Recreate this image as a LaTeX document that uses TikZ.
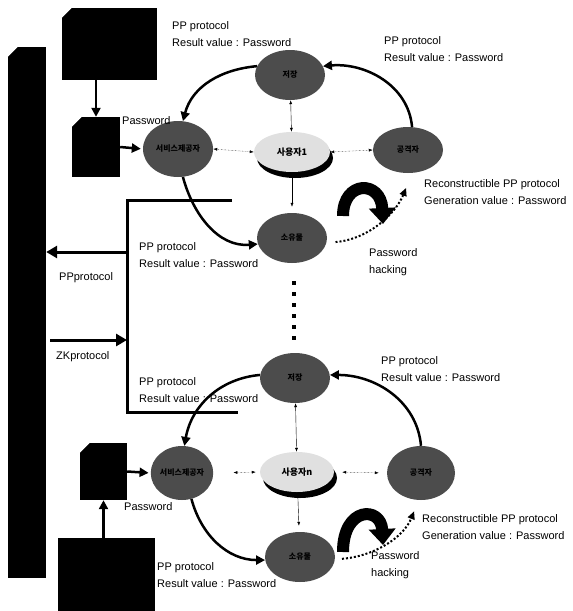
\documentclass[tikz,border=0pt]{standalone}
\usepackage{fontspec}
\setmainfont{Liberation Sans}
\newfontfamily\kr{Noto Sans CJK KR}
\usetikzlibrary{arrows.meta,shapes.geometric,shadows}

\begin{document}
\begin{tikzpicture}[x=1pt, y=-1pt,
        el/.style={ellipse, fill=black!70, inner sep=0pt, font=\kr\bfseries\footnotesize},
        us/.style={ellipse, fill=black!12, inner sep=0pt, font=\kr\bfseries\small,
          drop shadow={shadow xshift=3pt, shadow yshift=-6pt, fill=black, opacity=1}},
        blk/.style={rectangle, fill=black, inner sep=0pt},
        ed/.style={line width=2.5pt, -{Triangle[length=9pt, width=9pt]}},
        dd/.style={thin, {Latex[length=4pt]}-{Latex[length=4pt]}},
        hk/.style={line width=2pt, dotted, -{Triangle[length=8pt, width=7pt]}},
        ut/.style={line width=12pt, -{Triangle[length=16pt, width=26pt]}},
        lb/.style={anchor=west, align=left, inner sep=0pt, font=\fontsize{11}{17}\selectfont}
      ]
      \useasboundingbox (0,0) rectangle (573,611);
      % boxes
      \node[blk, minimum width=38pt, minimum height=531pt] (bar) at (27,312.5) {};
      \node[blk, minimum width=95pt, minimum height=72pt] (big1) at (109.5,44) {};
      \node[blk, minimum width=48pt, minimum height=60pt] (small1) at (96,147) {};
      \node[blk, minimum width=47pt, minimum height=57pt] (small2) at (103.5,471.5) {};
      \node[blk, minimum width=97pt, minimum height=73pt] (big2) at (106.5,574.5) {};
      \foreach \b in {bar,big1,small1,small2} {
        \fill[white] (\b.north west) -- ++(10,0) -- ++(-10,10) -- cycle;
      }
      % upper cycle
      \node[el, minimum width=70pt, minimum height=50pt] (top1) at (290,75) {저장};
      \node[us, minimum width=76pt, minimum height=40pt] (user1) at (292,152) {사용자1};
      \node[el, minimum width=70pt, minimum height=56pt] (left1) at (178,149) {서비스제공자};
      \node[el, minimum width=70pt, minimum height=46pt] (right1) at (408,150) {공격자};
      \node[el, minimum width=70pt, minimum height=50pt] (bot1) at (292,238) {소유물};
      % lower cycle
      \node[el, minimum width=70pt, minimum height=50pt] (top2) at (295,378) {저장};
      \node[us, minimum width=74pt, minimum height=40pt] (usern) at (297,472) {사용자n};
      \node[el, minimum width=60pt, minimum height=54pt] (left2) at (182,473) {서비스제공자};
      \node[el, minimum width=68pt, minimum height=54pt] (right2) at (421,473) {공격자};
      \node[el, minimum width=70pt, minimum height=50pt] (bot2) at (300,557) {소유물};

      \draw[ed] (big1.south -| small1.north) -- (small1.north);
      \draw[ed, shorten >=2pt] (small1.east) -- (left1.west);
      \draw[ed] (big2.north -| small2.south) -- (small2.south);
      \draw[ed, shorten >=2pt] (small2.east) -- (left2.west);

      \draw[ed] (top1.165) to[out=185, in=75] (left1.80);
      \draw[ed] (right1.80) to[out=95, in=5] (top1.15);
      \draw[ed] (left1.-80) to[out=-75, in=185] (bot1.190);
      \draw[ed] (top2.175) to[out=185, in=80] (left2.85);
      \draw[ed] (right2.90) to[out=95, in=0] (top2.5);
      \draw[ed] (left2.-70) to[out=-75, in=180] (bot2.185);

      \draw[dd] (top1) -- (user1);
      \draw[dd, shorten >=6pt] (user1) -- (bot1);
      \draw[dd, densely dotted] (left1.east) -- (user1.west);
      \draw[dd, densely dotted] (user1.east) -- (right1.west);
      \draw[dd] (top2) -- (usern);
      \draw[dd, shorten >=6pt] (usern) -- (bot2);
      \draw[dd, densely dotted, shorten <=20pt, shorten >=4pt] (left2.east) -- (usern.west);
      \draw[dd, densely dotted, shorten <=8pt, shorten >=8pt] (usern.east) -- (right2.west);

      \draw[hk, shorten <=9pt, shorten >=16pt] (bot1.-8) to[out=5, in=-112] (right1.-80);
      \draw[hk, shorten <=7pt, shorten >=12pt] (bot2.-4) to[out=5, in=-112] (right2.-95);

      % turn-over arrows
      \draw[ut] (343,216) .. controls (343,180) and (381,180) .. (383,224);
      \draw[ut] (343,552) .. controls (343,506) and (381,506) .. (383,545);
      \draw[line width=4pt, dash pattern=on 4pt off 7pt] (294,281) -- (294,342);

      % bracket to the server bar
      \coordinate (b1) at (232,200);
      \coordinate (b2) at (127,200);
      \coordinate (b3) at (127,412);
      \coordinate (b4) at (238,412);
      \draw[line width=3pt] (b1) -- (b2) -- (b3) -- (b4);
      \coordinate (pp) at (127,252);
      \coordinate (zk) at (127,340);
      \draw[line width=3pt, -{Triangle[length=11pt, width=12pt]}] (pp) -- (pp -| bar.east);
      \draw[line width=3pt, -{Triangle[length=11pt, width=12pt]}, shorten <=4pt] (zk -| bar.east) -- (zk);

      % labels
      \node[lb] (l1) at (172,34) {PP protocol\\Result value : Password};
      \node[lb] (l2) at (384,49) {PP protocol\\Result value : Password};
      \node[lb] (l3) at (424,192) {Reconstructible PP protocol\\Generation value : Password};
      \node[lb] (l4) at (369,262) {Password\\hacking};
      \node[lb] (l5) at (139,255) {PP protocol\\Result value : Password};
      \node[lb] (l6) at (59,278) {PPprotocol};
      \node[lb] (l7) at (56,357) {ZKprotocol};
      \node[lb] (l8) at (139,390) {PP protocol\\Result value : Password};
      \node[lb] (l9) at (122,121) {Password};
      \node[lb] (l10) at (124,507) {Password};
      \node[lb] (l11) at (157,575) {PP protocol\\Result value : Password};
      \node[lb] (l12) at (381,369) {PP protocol\\Result value : Password};
      \node[lb] (l13) at (422,527) {Reconstructible PP protocol\\Generation value : Password};
      \node[lb] (l14) at (371,565) {Password\\hacking};
    \end{tikzpicture}
\end{document}
